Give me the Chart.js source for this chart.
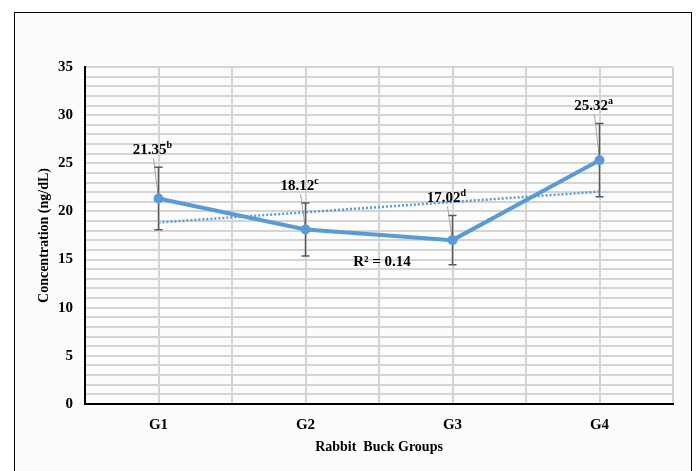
<!DOCTYPE html>
<html>
<head>
<meta charset="utf-8">
<script src="https://cdn.jsdelivr.net/npm/chart.js@4.4.0/dist/chart.umd.min.js"></script>
<style>
  html, body { margin: 0; padding: 0; background: #fff; }
  #wrap { position: relative; width: 696px; height: 471px; overflow: hidden; }
  #frame { position: absolute; left: 14px; top: 12px; width: 676px; height: 480px;
           border: 1px solid #000; background: #fcfcfc; }
  canvas { position: absolute; left: 0; top: 0; }
</style>
</head>
<body>
<div id="wrap">
  <div id="frame"></div>
  <canvas id="chart" width="696" height="471"></canvas>
</div>
<script>
// Werte
const groups = ['G1', 'G2', 'G3', 'G4'];
const means = [21.35, 18.12, 17.02, 25.32];
const errors = [3.25, 2.75, 2.55, 3.8];
const letters = ['b', 'c', 'd', 'a'];
const trendValues = [18.85, 22.05]; // Trendlinie bei G1 und G4
const rSquared = '0.14';

const serif = "'Liberation Serif', 'Times New Roman', serif";

// Fehlerbalken, Beschriftungen mit Hochzeichen und R²
const extras = {
  id: 'extras',
  beforeDatasetsDraw(chart) {
    const ctx = chart.ctx;
    const x = chart.scales.x, y = chart.scales.y;
    ctx.save();
    // Führungslinien
    ctx.strokeStyle = '#a6a6a6';
    ctx.lineWidth = 1;
    means.forEach((v, i) => {
      const px = x.getPixelForValue(i + 1);
      const py = y.getPixelForValue(v);
      const top = y.getPixelForValue(v + errors[i]);
      ctx.beginPath();
      ctx.moveTo(px - 5, top - 9);
      ctx.lineTo(px, py);
      ctx.stroke();
    });
    // Fehlerbalken
    ctx.strokeStyle = '#595959';
    ctx.lineWidth = 1.5;
    means.forEach((v, i) => {
      const px = x.getPixelForValue(i + 1);
      const top = y.getPixelForValue(v + errors[i]);
      const bot = y.getPixelForValue(v - errors[i]);
      ctx.beginPath();
      ctx.moveTo(px, top); ctx.lineTo(px, bot);
      ctx.moveTo(px - 4, top); ctx.lineTo(px + 4, top);
      ctx.moveTo(px - 4, bot); ctx.lineTo(px + 4, bot);
      ctx.stroke();
    });
    ctx.restore();
  },
  afterDatasetsDraw(chart) {
    const ctx = chart.ctx;
    const x = chart.scales.x, y = chart.scales.y;
    ctx.save();
    ctx.fillStyle = '#000';
    ctx.textBaseline = 'middle';
    means.forEach((v, i) => {
      const cx = x.getPixelForValue(i + 1) - 6;
      const cy = y.getPixelForValue(v + errors[i]) - 17;
      const txt = v.toFixed(2);
      ctx.font = 'bold 15px ' + serif;
      const w1 = ctx.measureText(txt).width;
      ctx.font = 'bold 10px ' + serif;
      const w2 = ctx.measureText(letters[i]).width;
      const left = cx - (w1 + w2) / 2;
      ctx.font = 'bold 15px ' + serif;
      ctx.textAlign = 'left';
      ctx.fillText(txt, left, cy);
      ctx.font = 'bold 10px ' + serif;
      ctx.fillText(letters[i], left + w1, cy - 5);
    });
    // R²
    ctx.font = 'bold 15px ' + serif;
    ctx.textAlign = 'center';
    ctx.fillText('R² = ' + rSquared, x.getPixelForValue(2.52), y.getPixelForValue(14.75));
    ctx.restore();
  }
};

new Chart(document.getElementById('chart'), {
  type: 'line',
  data: {
    datasets: [
      {
        data: means.map((v, i) => ({ x: i + 1, y: v })),
        borderColor: '#5b9bd5',
        backgroundColor: '#5b9bd5',
        borderWidth: 4,
        pointRadius: 5,
        pointBorderWidth: 0,
        tension: 0,
        order: 1
      },
      {
        data: [{ x: 1, y: trendValues[0] }, { x: 4, y: trendValues[1] }],
        borderColor: '#5b9bd5',
        borderWidth: 2.5,
        borderDash: [2, 2],
        pointRadius: 0,
        order: 2
      }
    ]
  },
  options: {
    responsive: false,
    animation: false,
    layout: { padding: { left: 0, top: 67, right: 23, bottom: 0 } },
    plugins: { legend: { display: false }, tooltip: { enabled: false } },
    scales: {
      x: {
        type: 'linear',
        min: 0.5,
        max: 4.5,
        afterFit: s => { s.height = 67; },
        afterBuildTicks: s => {
          s.ticks = [];
          for (let k = 0.5; k <= 4.5; k += 0.5) s.ticks.push({ value: k });
        },
        grid: { color: '#d4d4d4', lineWidth: 2, drawTicks: false },
        border: { color: '#000', width: 2 },
        ticks: {
          autoSkip: false,
          padding: 12,
          maxRotation: 0,
          color: '#000',
          font: { family: serif, size: 15, weight: 'bold' },
          callback: v => Number.isInteger(v) ? groups[v - 1] : ''
        },
        title: {
          display: true,
          text: 'Rabbit  Buck Groups',
          color: '#000',
          font: { family: serif, size: 14, weight: 'bold' },
          padding: { top: 0, bottom: 15 }
        }
      },
      y: {
        min: 0,
        max: 35,
        afterFit: s => { s.width = 85; },
        grid: { color: '#d4d4d4', lineWidth: 2, drawTicks: false },
        border: { color: '#000', width: 2 },
        ticks: {
          stepSize: 1,
          autoSkip: false,
          padding: 12,
          color: '#000',
          font: { family: serif, size: 15, weight: 'bold' },
          callback: v => v % 5 === 0 ? v : ''
        },
        title: {
          display: true,
          text: 'Concentration (ng/dL)',
          color: '#000',
          font: { family: serif, size: 14, weight: 'bold' },
          padding: { top: 36, bottom: 0 }
        }
      }
    }
  },
  plugins: [extras]
});
</script>
</body>
</html>
